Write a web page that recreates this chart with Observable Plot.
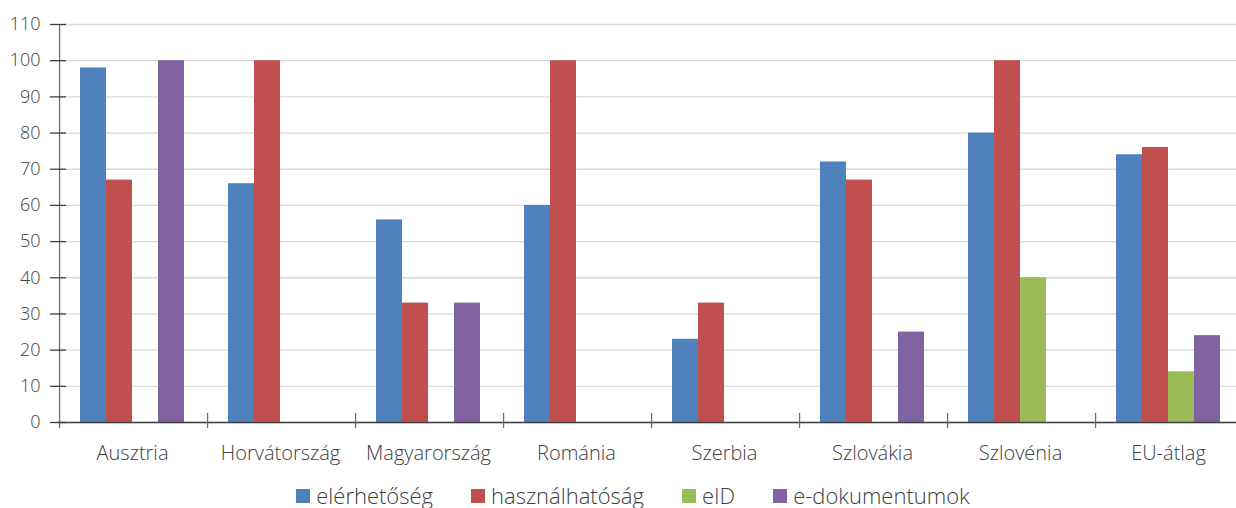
<!DOCTYPE html>
<html>
<head>
<meta charset="utf-8">
<script src="https://cdn.jsdelivr.net/npm/d3@7"></script>
<script src="https://cdn.jsdelivr.net/npm/@observablehq/plot@0.6"></script>
<style>
  html, body { margin: 0; padding: 0; background: #fff; }
  body { width: 1236px; height: 508px; overflow: hidden; font-family: "Open Sans", sans-serif; }
  #legend { display: flex; justify-content: center; gap: 38px; margin-top: 12px; margin-left: 30px;
            font-size: 22px; font-weight: 300; color: #404040; line-height: 26px; }
  #legend .item { display: flex; align-items: center; }
  #legend .sw { width: 14px; height: 14px; margin-right: 6px; margin-top: 2px; }
</style>
</head>
<body>
<div id="chart"></div>
<div id="legend"></div>
<script>
// Countries on the horizontal axis
const countries = ["Ausztria", "Horvátország", "Magyarország", "Románia", "Szerbia", "Szlovákia", "Szlovénia", "EU-átlag"];
// Indicator series
const series = ["elérhetőség", "használhatóság", "eID", "e-dokumentumok"];
const colors = ["#4F81BD", "#C0504D", "#9BBB59", "#8064A2"];
// Values per series, in country order (null = no bar)
const elerhetoseg    = [98, 66, 56, 60, 23, 72, 80, 74];
const hasznalhatosag = [67, 100, 33, 100, 33, 67, 100, 76];
const eID            = [null, null, null, null, null, null, 40, 14];
const eDokumentumok  = [100, null, 33, null, null, 25, null, 24];
const yTicks = [0, 10, 20, 30, 40, 50, 60, 70, 80, 90, 100, 110];

const valuesBySeries = [elerhetoseg, hasznalhatosag, eID, eDokumentumok];
const rows = [];
countries.forEach((c, i) => {
  series.forEach((s, j) => {
    const v = valuesBySeries[j][i];
    if (v != null) rows.push({country: c, series: s, value: v});
  });
});

const width = 1236, marginLeft = 58, marginRight = -6;
const step = (width - marginLeft - marginRight) / countries.length;
const outerPad = 0.77;
const bw = step / (series.length + 2 * outerPad);
const boundaryDx = -(outerPad * bw + bw / 2);

const chart = Plot.plot({
  width,
  height: 470,
  marginLeft,
  marginRight,
  marginTop: 24,
  marginBottom: 48,
  style: {fontFamily: "'Open Sans', sans-serif", fontWeight: 300, color: "#595959", background: "#fff"},
  fx: {domain: countries, padding: 0, label: null, axis: null},
  x: {domain: series, paddingInner: 0, paddingOuter: outerPad, axis: null},
  y: {domain: [0, 110], label: null, axis: null},
  color: {domain: series, range: colors},
  marks: [
    Plot.gridY(yTicks, {stroke: "#d9d9d9", strokeOpacity: 1, strokeWidth: 1.3}),
    Plot.barY(rows, {fx: "country", x: "series", y: "value", fill: "series", inset: 0}),
    Plot.ruleY([0], {stroke: "#404040", strokeWidth: 1.3}),
    // category separators, and the vertical axis line in the first panel
    Plot.ruleX(countries, {
      fx: d => d, x: () => series[0], dx: boundaryDx,
      y1: -1.66, y2: d => d === countries[0] ? 110 : 2.5,
      stroke: "#6e6e6e", strokeWidth: 1.3
    }),
    Plot.axisY(yTicks, {tickSize: 16, dx: 8, text: null, stroke: "#404040", strokeWidth: 1.3}),
    Plot.axisY(yTicks, {tickSize: 0, tickPadding: 18, fontSize: 18, fill: "#404040", label: null}),
    Plot.axisFx({anchor: "bottom", tickSize: 0, tickPadding: 23, fontSize: 20, fill: "#404040", label: null})
  ]
});
document.getElementById("chart").appendChild(chart);

const legend = document.getElementById("legend");
series.forEach((s, j) => {
  const item = document.createElement("div");
  item.className = "item";
  const sw = document.createElement("span");
  sw.className = "sw";
  sw.style.background = colors[j];
  const label = document.createElement("span");
  label.textContent = s;
  item.appendChild(sw);
  item.appendChild(label);
  legend.appendChild(item);
});
</script>
</body>
</html>
